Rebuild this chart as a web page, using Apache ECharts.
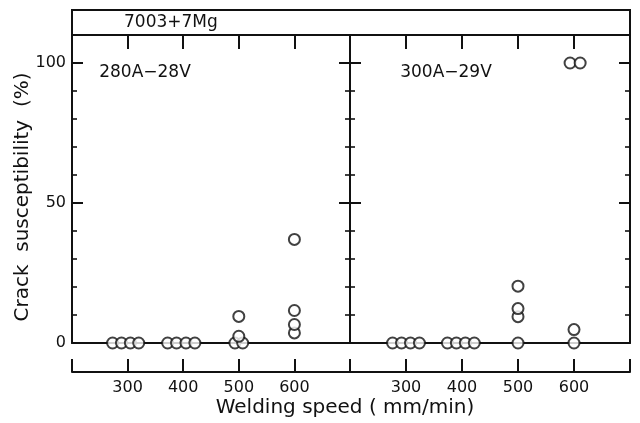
<!DOCTYPE html>
<html>
<head>
<meta charset="utf-8">
<script src="https://cdn.jsdelivr.net/npm/echarts@6/dist/echarts.min.js"></script>
<style>html,body{margin:0;padding:0;background:#fff;}#c{width:640px;height:423px;}</style>
</head>
<body>
<div id="c"></div>
<script>
// Data (welding speed mm/min, crack susceptibility %)
const leftSpeed  = [273, 289, 305, 320, 372, 388, 405, 421, 493, 507, 500, 500, 600, 600, 600, 600];
const leftCrack  = [0, 0, 0, 0, 0, 0, 0, 0, 0, 0, 2.4, 9.5, 3.6, 6.6, 11.6, 37];
const rightSpeed = [276, 292, 308, 324, 374, 390, 406, 422, 500, 500, 500, 500, 600, 600, 593, 611];
const rightCrack = [0, 0, 0, 0, 0, 0, 0, 0, 0, 9.4, 12.3, 20.3, 0, 4.8, 100, 100];
const xTickLabels = ['300', '400', '500', '600'];
const yTickLabels = ['0', '50', '100'];
const title = '7003+7Mg';
const panelTitles = ['280A\u221228V', '300A\u221229V'];
const xName = 'Welding speed ( mm/min)';
const yName = 'Crack  susceptibility  (%)';

const INK = '#111';
const FONT = '"DejaVu Sans", sans-serif';
const chart = echarts.init(document.getElementById('c'), null, {renderer: 'canvas'});

function xAxes(gi) {
  const base = {gridIndex: gi, type: 'value', min: 200, max: 700, interval: 100,
    splitLine: {show: false}};
  return [
    Object.assign({}, base, {position: 'bottom', offset: 0,
      axisLine: {show: true, onZero: false, lineStyle: {color: INK, width: 2}},
      axisTick: {show: false}, axisLabel: {show: false}}),
    Object.assign({}, base, {position: 'bottom', offset: 29,
      axisLine: {show: true, onZero: false, lineStyle: {color: INK, width: 2}},
      axisTick: {show: true, inside: true, length: 13, lineStyle: {color: INK, width: 2}},
      axisLabel: {show: true, margin: 8, color: INK, fontSize: 16, fontFamily: FONT,
        formatter: v => xTickLabels.indexOf(String(v)) >= 0 ? String(v) : ''}}),
    Object.assign({}, base, {position: 'top', offset: 0,
      axisLine: {show: true, onZero: false, lineStyle: {color: INK, width: 2}},
      axisTick: {show: true, inside: true, length: 14, lineStyle: {color: INK, width: 2}},
      axisLabel: {show: false}})
  ];
}
function yAxes(gi, labels) {
  const base = {gridIndex: gi, type: 'value', min: 0, max: 110, splitLine: {show: false}};
  return [
    Object.assign({}, base, {position: 'left', interval: 50,
      axisLine: {show: true, onZero: false, lineStyle: {color: INK, width: 2}},
      axisTick: {show: true, inside: true, length: 11, lineStyle: {color: INK, width: 2}},
      axisLabel: {show: labels, margin: 6, color: INK, fontSize: 16, fontFamily: FONT,
        formatter: v => yTickLabels.indexOf(String(v)) >= 0 ? String(v) : ''}}),
    Object.assign({}, base, {position: 'left', interval: 10,
      axisLine: {show: false, onZero: false},
      axisTick: {show: true, inside: true, length: 5, lineStyle: {color: INK, width: 1.6}},
      axisLabel: {show: false}}),
    Object.assign({}, base, {position: 'right', interval: 50,
      axisLine: {show: true, onZero: false, lineStyle: {color: INK, width: 2}},
      axisTick: {show: true, inside: true, length: 11, lineStyle: {color: INK, width: 2}},
      axisLabel: {show: false}}),
    Object.assign({}, base, {position: 'right', interval: 10,
      axisLine: {show: false, onZero: false},
      axisTick: {show: true, inside: true, length: 5, lineStyle: {color: INK, width: 1.6}},
      axisLabel: {show: false}})
  ];
}

const symbolStyle = {color: '#fff', borderColor: INK, borderWidth: 2};
const textStyle = (s, size) => ({text: s, fill: INK, font: size + 'px ' + FONT});

chart.setOption({
  backgroundColor: '#fff',
  animation: false,
  grid: [
    {left: 72, right: 290, top: 35, bottom: 80},
    {left: 350, right: 10, top: 35, bottom: 80}
  ],
  xAxis: xAxes(0).concat(xAxes(1)),
  yAxis: yAxes(0, true).concat(yAxes(1, false)),
  series: [
    {type: 'scatter', xAxisIndex: 0, yAxisIndex: 0, symbol: 'circle', symbolSize: 11,
      itemStyle: symbolStyle, z: 5,
      data: leftSpeed.map((s, i) => [s, leftCrack[i]])},
    {type: 'scatter', xAxisIndex: 3, yAxisIndex: 4, symbol: 'circle', symbolSize: 11,
      itemStyle: symbolStyle, z: 5,
      data: rightSpeed.map((s, i) => [s, rightCrack[i]])}
  ],
  graphic: [
    {type: 'rect', shape: {x: 72, y: 10, width: 558, height: 25},
      style: {fill: 'none', stroke: INK, lineWidth: 2}},
    {type: 'text', x: 124, y: 23, style: Object.assign(textStyle(title, 17),
      {textAlign: 'left', textVerticalAlign: 'middle'})},
    {type: 'text', x: 145, y: 73, style: Object.assign(textStyle(panelTitles[0], 17),
      {textAlign: 'center', textVerticalAlign: 'middle'})},
    {type: 'text', x: 446, y: 73, style: Object.assign(textStyle(panelTitles[1], 17),
      {textAlign: 'center', textVerticalAlign: 'middle'})},
    {type: 'text', x: 345, y: 408, style: Object.assign(textStyle(xName, 20),
      {textAlign: 'center', textVerticalAlign: 'middle'})},
    {type: 'text', x: 23, y: 197, rotation: Math.PI / 2, style: Object.assign(textStyle(yName, 20),
      {textAlign: 'center', textVerticalAlign: 'middle'})}
  ]
});
</script>
</body>
</html>
